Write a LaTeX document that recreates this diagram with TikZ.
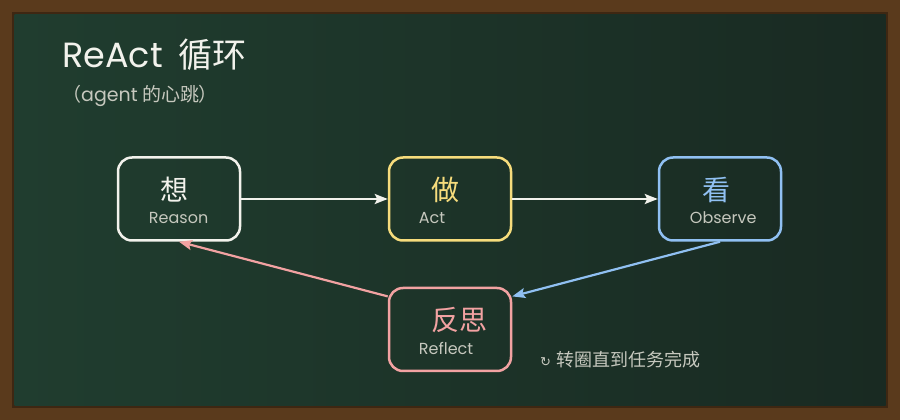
\documentclass[tikz,border=0pt]{standalone}
\usepackage{fontspec}
\setmainfont{Noto Sans CJK SC}
\newfontfamily\hand{Poppins}
\newfontfamily\symb{DejaVu Sans}
\usetikzlibrary{calc}
\usetikzlibrary{arrows.meta}

\definecolor{woodframe}{HTML}{5A3A1C}
\definecolor{woodedge}{HTML}{3E2712}
\definecolor{boardleft}{HTML}{203D2F}
\definecolor{boardright}{HTML}{192A22}
\definecolor{chalkwhite}{HTML}{F2F2EC}
\definecolor{chalkyellow}{HTML}{F6DC7C}
\definecolor{chalkblue}{HTML}{90C0F2}
\definecolor{chalkpink}{HTML}{F2A2A2}
\definecolor{chalkgray}{HTML}{C6C8BE}

\begin{document}
\begin{tikzpicture}[x=1pt, y=1pt,
    stepbox/.style={draw, rounded corners=14pt, line width=2.5pt, minimum width=122pt, minimum height=83pt, inner sep=0pt},
    bigchar/.style={anchor=west, inner sep=0pt, font=\fontsize{28}{30}\selectfont},
    smalltag/.style={anchor=west, inner sep=0pt, text=chalkgray, font=\hand\fontsize{16}{18}\selectfont},
    flow/.style={line width=2.2pt, -{Stealth[length=13pt, width=10pt, inset=2.5pt]}}
]
    % Blackboard
    % - [Frame and board]
    \fill [woodframe] (0, 0) rectangle (900, 420);
    \fill [woodedge] (12, 12) rectangle (888, 408);
    \shade [left color=boardleft, right color=boardright] (14.5, 14.5) rectangle (885.5, 405.5);
    \useasboundingbox (0, 0) rectangle (900, 420);

    % - [Title]
    \node at (62, 352) [anchor=base west, inner sep=0pt, text=chalkwhite, font=\fontsize{34}{38}\selectfont](title){{\hand\fontsize{35}{38}\selectfont ReAct}\hspace{16pt}循环};
    \node at (62, 318) [anchor=base west, inner sep=0pt, text=chalkgray, font=\fontsize{19}{21}\selectfont](subtitle){（{\hand agent} 的心跳）};

    % - [The four steps]
    \node at (179, 221) [stepbox, draw=chalkwhite](reason){};
    \node at (450, 221) [stepbox, draw=chalkyellow](act){};
    \node at (720, 221) [stepbox, draw=chalkblue](observe){};
    \node at (450, 90.5) [stepbox, draw=chalkpink](reflect){};
    % -- Texts inside the boxes
    \node at ($(reason.west)+(44, 9)$) [bigchar, text=chalkwhite](reason_zh){想};
    \node at ($(reason.west)+(32, -19)$) [smalltag](reason_en){Reason};
    \node at ($(act.west)+(44, 9)$) [bigchar, text=chalkyellow](act_zh){做};
    \node at ($(act.west)+(31, -19)$) [smalltag](act_en){Act};
    \node at ($(observe.west)+(45, 9)$) [bigchar, text=chalkblue](observe_zh){看};
    \node at ($(observe.west)+(32, -19)$) [smalltag](observe_en){Observe};
    \node at ($(reflect.west)+(44, 9)$) [bigchar, text=chalkpink](reflect_zh){反思};
    \node at ($(reflect.west)+(31, -19)$) [smalltag](reflect_en){Reflect};

    % - [The loop]
    \draw [flow, chalkwhite] (reason.east) -- (act.west) ;
    \draw [flow, chalkwhite] (act.east) -- (observe.west) ;
    \draw [flow, chalkblue] (observe.south) -- (reflect.28) ;
    \draw [flow, chalkpink] (reflect.152) -- (reason.south) ;

    % - [Note]
    \node at (540, 60) [anchor=west, inner sep=0pt, text=chalkgray, font=\fontsize{18}{20}\selectfont](note){{\symb\fontsize{13}{15}\selectfont ↻}\hspace{5pt}转圈直到任务完成};

\end{tikzpicture}
\end{document}
